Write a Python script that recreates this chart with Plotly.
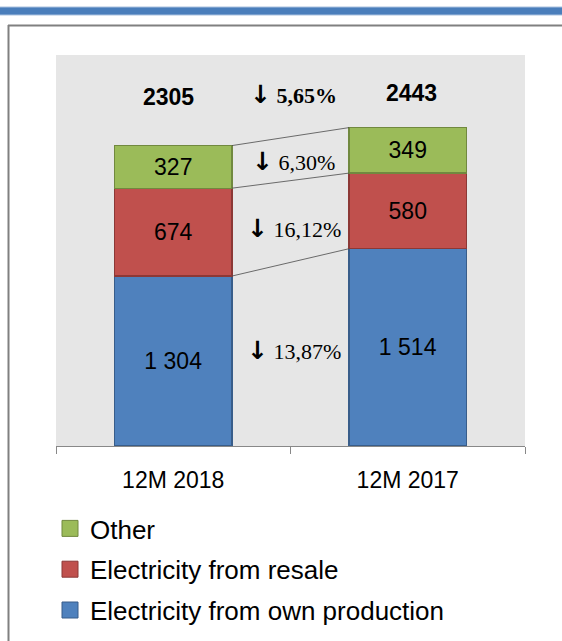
import plotly.graph_objects as go

# ---- data ----
categories = ["12M 2018", "12M 2017"]
own_production = [1304, 1514]
resale = [674, 580]
other = [327, 349]
totals = [2305, 2443]
own_labels = ["1 304", "1 514"]
resale_labels = ["674", "580"]
other_labels = ["327", "349"]
change_total = "5,65%"
change_other = "6,30%"
change_resale = "16,12%"
change_own = "13,87%"

series_names = ["Electricity from own production", "Electricity from resale", "Other"]
fill_colors = ["#4F81BD", "#C0504D", "#9BBB59"]
line_colors = ["#385D8A", "#8C3836", "#71893F"]

W, H = 562, 641
L, R, T, B = 56, 525, 55, 446  # plot area in px
YMAX = 3000
BAR_W = 0.5

def px_x(p):
    return (p - L) / (R - L)

def px_y(p):
    return (B - p) / (B - T)

ARROW = "<span style='font-family:DejaVu Sans;font-size:25px'><b>\u2193</b></span>"

xs = [0, 1]
fig = go.Figure()
series = [(own_production, own_labels), (resale, resale_labels), (other, other_labels)]
for i, (vals, labs) in enumerate(series):
    fig.add_trace(go.Bar(
        x=xs, y=vals, width=BAR_W, name=series_names[i], text=labs,
        textposition="inside", insidetextanchor="middle", textangle=0,
        textfont=dict(family="Liberation Sans", size=23, color="black"),
        marker=dict(color=fill_colors[i], line=dict(color=line_colors[i], width=1.3)),
        showlegend=False, hoverinfo="skip", cliponaxis=False,
    ))

# connector lines between cumulative levels
cum_left = [own_production[0], own_production[0] + resale[0], totals[0]]
cum_right = [own_production[1], own_production[1] + resale[1], totals[1]]
for a, b in zip(cum_left, cum_right):
    fig.add_trace(go.Scatter(
        x=[xs[0] + BAR_W / 2, xs[1] - BAR_W / 2], y=[a, b], mode="lines",
        line=dict(color="#4a4a4a", width=0.8), showlegend=False, hoverinfo="skip",
    ))

# legend entries (square markers)
for i in [2, 1, 0]:
    fig.add_trace(go.Scatter(
        x=[None], y=[None], mode="markers", name=series_names[i],
        marker=dict(symbol="square", size=16, color=fill_colors[i],
                    line=dict(color=line_colors[i], width=1)),
        legendgroup="g%d" % (2 - i),
    ))

annotations = []
# totals
tot_y_px = [97, 93]
for i in range(2):
    annotations.append(dict(
        x=xs[i], xref="x", y=px_y(tot_y_px[i]), yref="paper", yanchor="middle",
        xshift=-5 if i == 0 else 4,
        text="<b>%d</b>" % totals[i], showarrow=False,
        font=dict(family="Liberation Sans", size=23, color="black"),
    ))
annotations.append(dict(
    x=0.5, xref="x", y=px_y(94), yref="paper", yanchor="middle", xshift=3,
    text=ARROW + "<b> " + change_total + "</b>", showarrow=False,
    font=dict(family="Liberation Serif", size=22, color="black"),
))
seg_pairs = [
    (own_production, [0, 0], change_own, 4),
    (resale, own_production, change_resale, -7),
    (other, [own_production[k] + resale[k] for k in range(2)], change_other, -3),
]
for vals, base, txt, ysh in seg_pairs:
    yc = sum(base[k] + vals[k] / 2 for k in range(2)) / 2
    annotations.append(dict(
        x=0.5, xref="x", y=yc, yref="y", yanchor="middle", xshift=3, yshift=ysh,
        text=ARROW + " " + txt, showarrow=False,
        font=dict(family="Liberation Serif", size=22, color="black"),
    ))

shapes = [
    # top blue band
    dict(type="rect", xref="paper", yref="paper", x0=px_x(0), x1=px_x(W), y0=px_y(15.5), y1=px_y(6.5),
         fillcolor="#A9C1DF", line=dict(width=0), layer="above"),
    dict(type="rect", xref="paper", yref="paper", x0=px_x(0), x1=px_x(W), y0=px_y(14.5), y1=px_y(7.5),
         fillcolor="#4A7EBB", line=dict(width=0), layer="above"),
    # frame
    dict(type="line", xref="paper", yref="paper", x0=px_x(8), x1=px_x(W + 5), y0=px_y(25.5), y1=px_y(25.5),
         line=dict(color="#808080", width=2)),
    dict(type="line", xref="paper", yref="paper", x0=px_x(8.5), x1=px_x(8.5), y0=px_y(25), y1=px_y(H + 5),
         line=dict(color="#808080", width=2)),
]

fig.update_layout(
    width=W, height=H, barmode="stack",
    margin=dict(l=L, r=W - R, t=T, b=H - B, pad=0, autoexpand=False),
    paper_bgcolor="white", plot_bgcolor="#E6E6E6",
    xaxis=dict(range=[-0.5, 1.5], tickvals=xs, ticktext=categories, ticks="", showgrid=False,
               zeroline=False, showline=True, linecolor="#888888", linewidth=1,
               tickfont=dict(family="Liberation Sans", size=23, color="black"),
               ticklabelstandoff=13,
               minor=dict(tickvals=[-0.5, 0.5, 1.5], ticks="outside", ticklen=7,
                          tickcolor="#888888", tickwidth=1, showgrid=False)),
    yaxis=dict(range=[0, YMAX], visible=False, fixedrange=True),
    showlegend=True,
    legend=dict(x=px_x(50), y=px_y(505), xanchor="left", yanchor="top",
                font=dict(family="Liberation Sans", size=26, color="black"),
                traceorder="grouped", tracegroupgap=4, bgcolor="rgba(0,0,0,0)"),
    annotations=annotations, shapes=shapes,
)

fig.write_html("out.html")
